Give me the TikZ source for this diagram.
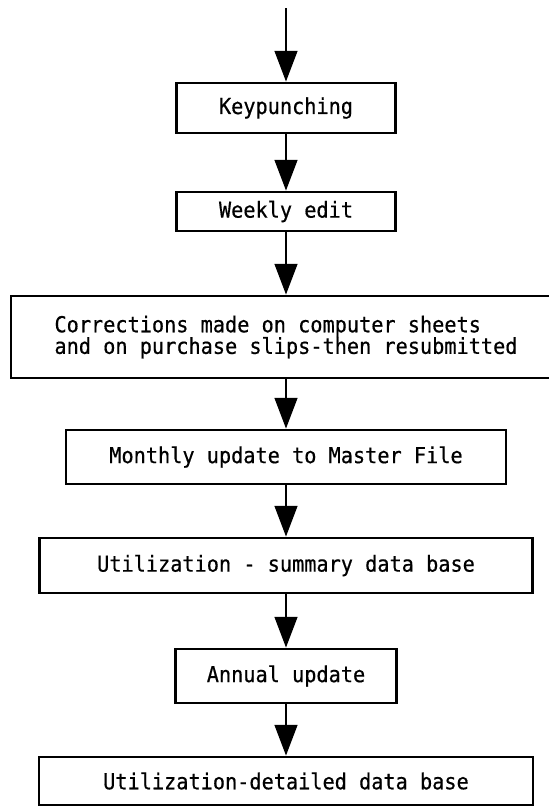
\documentclass[tikz,border=0pt]{standalone}
\usepackage{fontspec}
\newfontfamily\typew[FakeStretch=0.92,FakeBold=0.5]{DejaVu Sans Mono}
\usetikzlibrary{arrows.meta}
\begin{document}
\begin{tikzpicture}[x=0.75pt,y=-0.75pt,
  box/.style={draw=black, line width=2.1pt, inner sep=0pt, text=black,
    font=\typew\fontsize{16.5}{16.2}\selectfont},
  arr/.style={draw=black, line width=1.7pt, -{Triangle[length=23pt,width=17pt]}}]
\useasboundingbox (0,0) rectangle (549,807);
\fill[white] (0,0) rectangle (549,807);
\coordinate (start) at (286,8);
\node[box, minimum width=164.25pt, minimum height=37.5pt] (kp) at (286,108) {Keypunching};
\node[box, minimum width=164.25pt, minimum height=29.25pt] (we) at (286,211.5) {Weekly edit};
\node[box, minimum width=412.5pt, minimum height=61.5pt, align=left] (corr) at (286,337)
  {Corrections made on computer sheets\\and on purchase slips-then resubmitted};
\node[box, minimum width=330pt, minimum height=40.5pt] (mo) at (286,457) {Monthly update to Master File};
\node[box, minimum width=369.75pt, minimum height=41.25pt] (su) at (286,565.5) {Utilization - summary data base};
\node[box, minimum width=165.75pt, minimum height=40.5pt] (an) at (286,676) {Annual update};
\node[box, minimum width=370.5pt, minimum height=36pt] (de) at (286,781) {Utilization-detailed data base};
\draw[arr] (start) -- (kp);
\draw[arr] (kp) -- (we);
\draw[arr] (we) -- (corr);
\draw[arr] (corr) -- (mo);
\draw[arr] (mo) -- (su);
\draw[arr] (su) -- (an);
\draw[arr] (an) -- (de);
\end{tikzpicture}
\end{document}
